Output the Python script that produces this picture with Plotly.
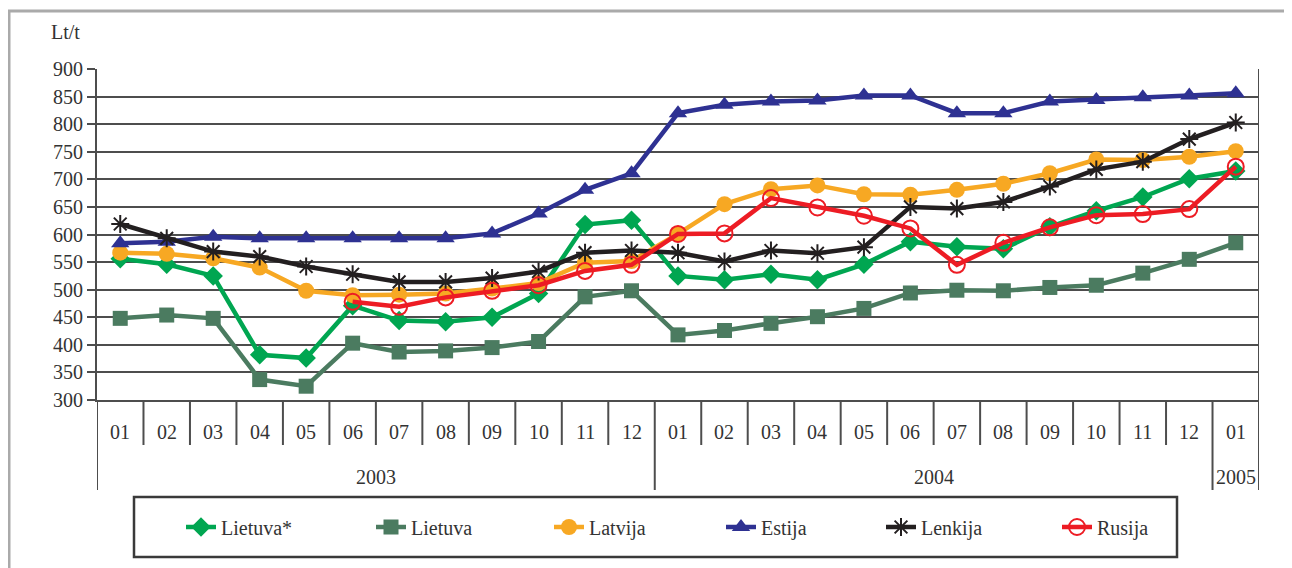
import plotly.graph_objects as go

# ---- data ----
months = ["01", "02", "03", "04", "05", "06", "07", "08", "09", "10", "11", "12",
          "01", "02", "03", "04", "05", "06", "07", "08", "09", "10", "11", "12", "01"]
years = ["2003", "2004", "2005"]
year_spans = [(0, 11), (12, 23), (24, 24)]

lietuva_star = [556, 546, 525, 382, 376, 471, 444, 442, 450, 493, 618, 626,
                525, 518, 528, 518, 546, 587, 578, 574, 614, 643, 668, 701, 715]
lietuva = [448, 454, 448, 337, 325, 403, 387, 389, 395, 406, 487, 498,
           418, 426, 439, 451, 466, 494, 499, 498, 504, 508, 530, 555, 585]
latvija = [567, 565, 557, 540, 498, 490, 491, 493, 502, 512, 549, 552,
           601, 655, 682, 689, 673, 672, 681, 692, 711, 736, 735, 741, 751]
estija = [584, 587, 596, 593, 593, 593, 593, 593, 602, 638, 681, 711,
          820, 835, 841, 843, 852, 852, 820, 820, 841, 844, 849, 852, 856]
lenkija = [619, 593, 569, 560, 542, 528, 514, 514, 521, 533, 567, 571,
           567, 551, 571, 566, 577, 650, 647, 659, 687, 718, 732, 773, 803]
rusija = [None, None, None, None, None, 478, 469, 486, 498, 508, 534, 545,
          601, 602, 666, 649, 634, 611, 545, 585, 613, 635, 637, 646, 723]

series = [
    ("Lietuva*", lietuva_star, "#00A651", "diamond", 15, 0),
    ("Lietuva", lietuva, "#4B7B60", "square", 15, 0),
    ("Latvija", latvija, "#F7A823", "circle", 16, 0),
    ("Estija", estija, "#2E3192", "triangle-up", 16, 0),
    ("Lenkija", lenkija, "#231F20", "asterisk-open", 15, 2),
    ("Rusija", rusija, "#ED1C24", "circle-open", 16, 2),
]
legend_x_px = [181, 371, 549, 721, 881, 1057]

# page offset (browser body margin)
OFF = 8
W, H = 1292 - OFF, 568 - OFF
L, R, T, B = 97 - OFF, 1259 - OFF, 69 - OFF, 400 - OFF
pw, ph = R - L, B - T


def px_x(x):
    return (x - OFF - L) / pw


def px_y(y):
    return (B - (y - OFF)) / ph


FONT = "Liberation Serif"
FS = 20
TXT = "#333333"
GRID = "#4D4D4D"

x = list(range(len(months)))
fig = go.Figure()
for i, (name, vals, color, sym, size, lw) in enumerate(series):
    marker = dict(symbol=sym, size=size, color=color)
    if lw:
        marker["line"] = dict(color=color, width=lw)
    fig.add_trace(go.Scatter(
        x=x, y=vals, name=name, mode="lines+markers",
        line=dict(color=color, width=4.5), marker=marker,
        connectgaps=False,
        legend="legend" if i == 0 else f"legend{i+1}",
    ))

layout = dict(
    width=W, height=H,
    margin=dict(l=L, r=W - R, t=T, b=H - B),
    paper_bgcolor="white", plot_bgcolor="white",
    font=dict(family=FONT, size=FS, color=TXT),
    xaxis=dict(range=[-0.5, len(months) - 0.5], showgrid=False, zeroline=False,
               showticklabels=False, ticks="", showline=True, linecolor=GRID, linewidth=2),
    yaxis=dict(range=[300, 900], dtick=50, showgrid=True, gridcolor=GRID, gridwidth=2,
               zeroline=False, showline=True, linecolor=GRID, linewidth=2,
               ticks="outside", ticklen=8, tickcolor=GRID, tickwidth=2,
               tickfont=dict(family=FONT, size=FS, color=TXT)),
    showlegend=True,
)
for i, lx in enumerate(legend_x_px):
    key = "legend" if i == 0 else f"legend{i+1}"
    layout[key] = dict(x=px_x(lx), y=px_y(527), xanchor="left", yanchor="middle",
                       orientation="h", bgcolor="rgba(0,0,0,0)", borderwidth=0,
                       font=dict(family=FONT, size=FS, color=TXT))
fig.update_layout(**layout)

shapes = []
bounds_year = set()
for s, e in year_spans:
    bounds_year.add(s - 0.5)
    bounds_year.add(e + 0.5)
for i in range(1, len(months)):
    b = i - 0.5
    if b in bounds_year:
        continue
    shapes.append(dict(type="line", xref="x", yref="paper", x0=b, x1=b,
                       y0=0, y1=px_y(445), line=dict(color=GRID, width=2)))
for b in sorted(bounds_year):
    y0 = 1 if b == len(months) - 0.5 else 0
    shapes.append(dict(type="line", xref="x", yref="paper", x0=b, x1=b,
                       y0=y0, y1=px_y(490), line=dict(color=GRID, width=2)))
# legend box
shapes.append(dict(type="rect", xref="paper", yref="paper",
                   x0=px_x(134), x1=px_x(1177), y0=px_y(497), y1=px_y(557),
                   line=dict(color="#3A3A3A", width=2.5)))
# outer frame
shapes.append(dict(type="rect", xref="paper", yref="paper",
                   x0=px_x(9), x1=px_x(1287), y0=px_y(11), y1=px_y(600),
                   line=dict(color="#AAAAAA", width=3)))
fig.update_layout(shapes=shapes)

ann = []
for i, m in enumerate(months):
    ann.append(dict(x=i, xref="x", y=px_y(432), yref="paper", text=m, showarrow=False,
                    xanchor="center", yanchor="middle", font=dict(family=FONT, size=FS, color=TXT)))
for (s, e), yr in zip(year_spans, years):
    ann.append(dict(x=(s + e) / 2, xref="x", y=px_y(477), yref="paper", text=yr, showarrow=False,
                    xanchor="center", yanchor="middle", font=dict(family=FONT, size=FS, color=TXT)))
ann.append(dict(x=px_x(65), xref="paper", y=px_y(32), yref="paper", text="Lt/t", showarrow=False,
                xanchor="center", yanchor="middle", font=dict(family=FONT, size=FS, color=TXT)))
fig.update_layout(annotations=ann)

fig.write_html("out.html")
